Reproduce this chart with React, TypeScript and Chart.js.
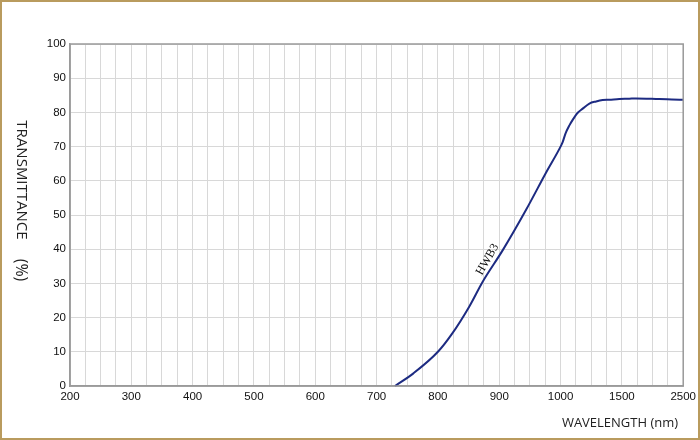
import React, { useEffect, useRef } from 'react';
import { Chart, registerables } from 'chart.js';

Chart.register(...registerables);

// Measured curve (HWB3)
const wavelengths = [730, 760, 800, 822, 851, 873, 906, 944, 976, 1000, 1017, 1040, 1072, 1100, 1140, 1180, 1235, 1290, 1343, 1397, 1479, 1620, 1730, 2109, 2490, 2500];
const transmittance = [0, 3.7, 10, 15, 23.2, 30.5, 39.8, 51.6, 62.3, 70, 71.3, 73.8, 76.2, 77.9, 79.9, 81.1, 82.6, 83.2, 83.6, 83.7, 83.9, 84.0, 84.1, 83.9, 83.7, 83.7];

// Axis breakpoints (each shown equally spaced on the x axis)
const xBreaks = [200, 300, 400, 500, 600, 700, 800, 900, 1000, 1500, 2500];
const xTickLabels = ['200', '300', '400', '500', '600', '700', '800', '900', '1000', '1500', '2500'];
const yMin = 0;
const yMax = 100;
const yStep = 10;

const seriesLabel = 'HWB3';
const labelAt = { wl: 881, t: 37 };

function toIdx(wl: number): number {
  for (let i = 0; i < xBreaks.length - 1; i++) {
    if (wl <= xBreaks[i + 1]) {
      return i + (wl - xBreaks[i]) / (xBreaks[i + 1] - xBreaks[i]);
    }
  }
  return xBreaks.length - 1;
}

const framePlugin = {
  id: 'frame',
  beforeDraw(chart: any) {
    const { ctx, width, height } = chart;
    ctx.save();
    ctx.fillStyle = '#ffffff';
    ctx.fillRect(0, 0, width, height);
    ctx.restore();
  },
  afterDraw(chart: any) {
    const { ctx, width, height, chartArea, scales } = chart;
    ctx.save();
    // plot border
    ctx.strokeStyle = '#9a9a9a';
    ctx.lineWidth = 1.5;
    ctx.strokeRect(chartArea.left, chartArea.top, chartArea.right - chartArea.left, chartArea.bottom - chartArea.top);
    // outer tan frame
    ctx.strokeStyle = '#b99b5e';
    ctx.lineWidth = 2;
    ctx.strokeRect(1, 1, width - 2, height - 2);
    // y title (rotated clockwise)
    ctx.fillStyle = '#222';
    ctx.textAlign = 'center';
    ctx.textBaseline = 'middle';
    ctx.translate(21, 0);
    ctx.rotate(Math.PI / 2);
    ctx.font = '15px "Open Sans"';
    ctx.fillText('TRANSMITTANCE', 180, 0);
    ctx.font = '16px "Open Sans"';
    ctx.fillText('(%)', 270, 0);
    ctx.setTransform(1, 0, 0, 1, 0, 0);
    // x title
    ctx.font = '13px "Open Sans"';
    ctx.fillText('WAVELENGTH (nm)', 620, 423);
    // curve label
    const px = scales.x.getPixelForValue(toIdx(labelAt.wl));
    const py = scales.y.getPixelForValue(labelAt.t);
    ctx.translate(px, py);
    ctx.rotate(-60 * Math.PI / 180);
    ctx.font = '12px "Liberation Serif"';
    ctx.fillStyle = '#111';
    ctx.fillText(seriesLabel, 0, 0);
    ctx.restore();
  },
};

export default function App() {
  const ref = useRef<HTMLCanvasElement | null>(null);

  useEffect(() => {
    document.body.style.margin = '0';
    const canvas = ref.current;
    if (!canvas) return;
    const data = wavelengths.map((w, i) => ({ x: toIdx(w), y: transmittance[i] }));
    const chart = new Chart(canvas, {
      type: 'line',
      data: {
        datasets: [
          {
            label: seriesLabel,
            data,
            borderColor: '#1d2b82',
            borderWidth: 2,
            pointRadius: 0,
            fill: false,
            cubicInterpolationMode: 'monotone',
            clip: false,
          } as any,
        ],
      },
      options: {
        animation: false,
        responsive: false,
        maintainAspectRatio: false,
        layout: { padding: { left: 0, top: 44, right: 16, bottom: 0 } },
        plugins: { legend: { display: false }, tooltip: { enabled: false } },
        scales: {
          x: {
            type: 'linear',
            min: 0,
            max: xBreaks.length - 1,
            afterFit: (s: any) => { s.height = 54; },
            border: { display: true, color: '#9a9a9a', width: 1.5 },
            grid: { color: '#d8d8d8', lineWidth: 1, drawTicks: false },
            ticks: {
              stepSize: 0.25,
              autoSkip: false,
              maxRotation: 0,
              padding: 4,
              color: '#111',
              font: { family: '"Liberation Sans"', size: 11.5 },
              callback: (v: any) => (Number.isInteger(v) ? xTickLabels[v] : ''),
            },
          },
          y: {
            type: 'linear',
            min: yMin,
            max: yMax,
            afterFit: (s: any) => { s.width = 70; },
            border: { display: true, color: '#9a9a9a', width: 1.5 },
            grid: { color: '#d8d8d8', lineWidth: 1, drawTicks: false },
            ticks: {
              stepSize: yStep,
              padding: 4,
              color: '#111',
              font: { family: '"Liberation Sans"', size: 11.5 },
            },
          },
        },
      },
      plugins: [framePlugin],
    });
    return () => chart.destroy();
  }, []);

  return (
    <div style={{ width: 700, height: 440, position: 'relative' }}>
      <canvas ref={ref} width={700} height={440} style={{ display: 'block', width: 700, height: 440 }} />
    </div>
  );
}
